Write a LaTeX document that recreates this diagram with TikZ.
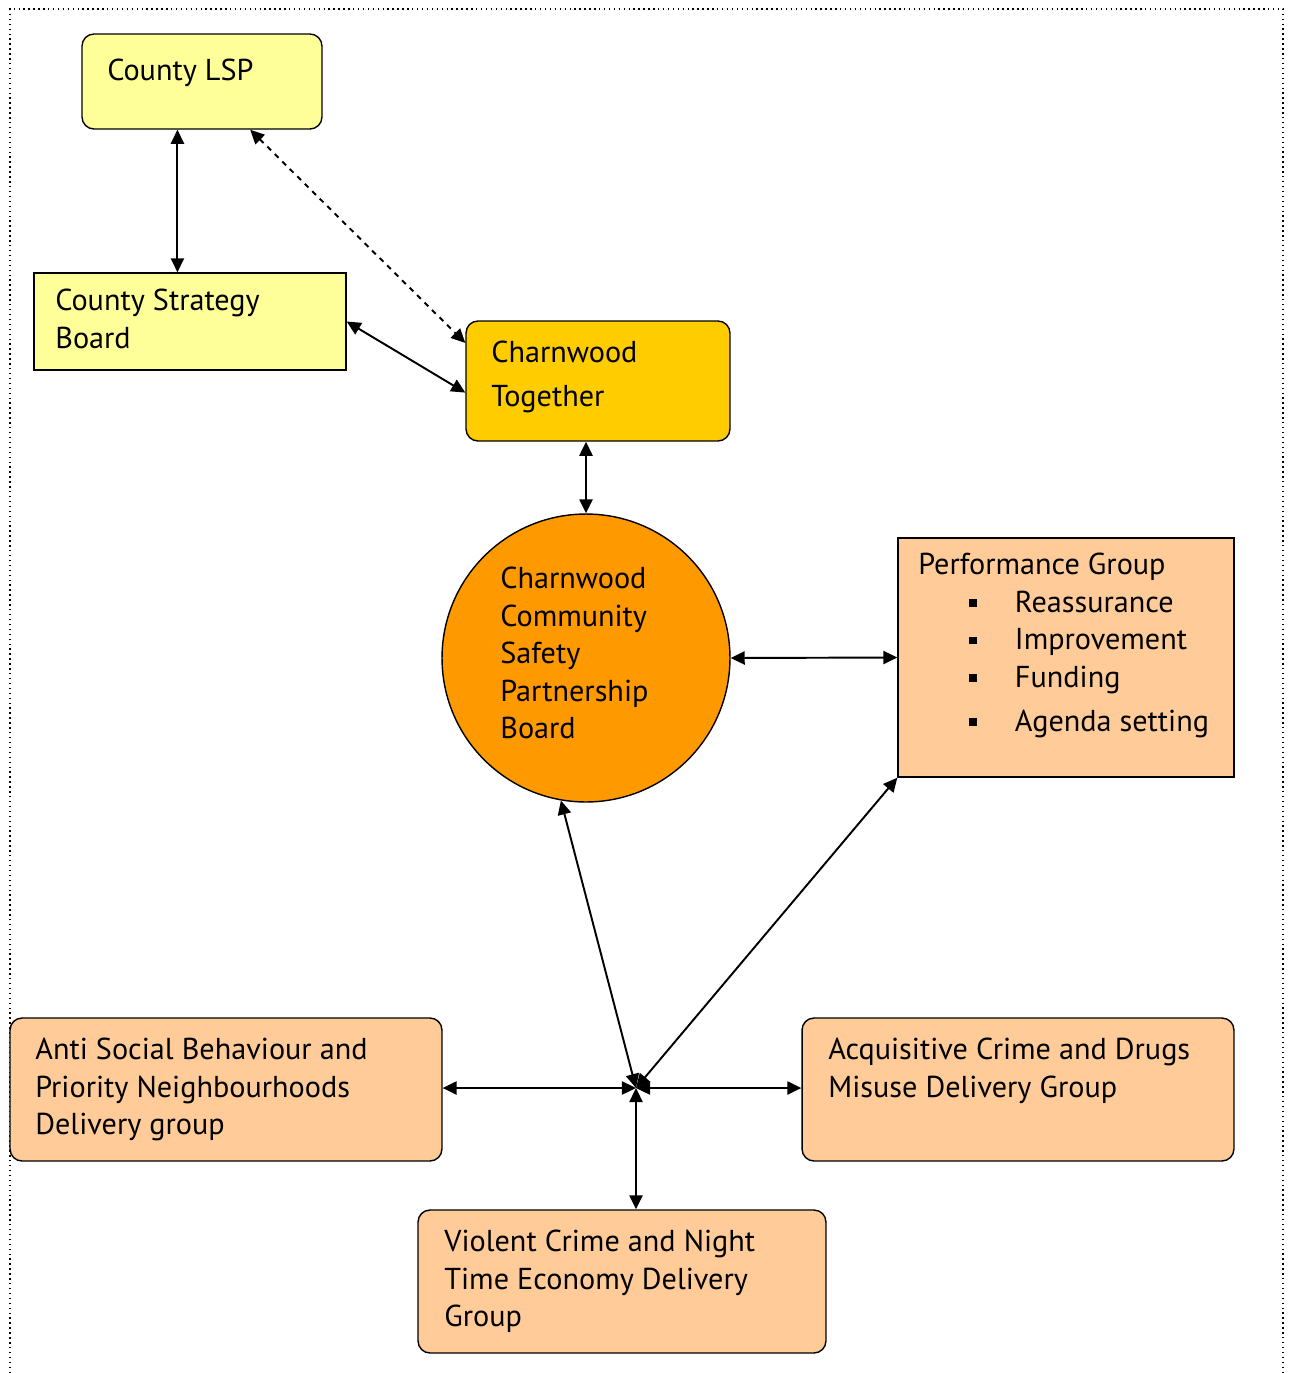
\documentclass[tikz,border=0pt]{standalone}
\usepackage{fontspec}
\setmainfont{PT Sans}
\usetikzlibrary{arrows.meta}
\definecolor{paleyellow}{HTML}{FFFF99}
\definecolor{gold}{HTML}{FFCC00}
\definecolor{deeporange}{HTML}{FF9900}
\definecolor{peach}{HTML}{FFCC99}
\newcommand{\bul}{\hspace{29pt}\rule[3pt]{4.5pt}{4.5pt}\hspace{21.5pt}}
\begin{document}
\begin{tikzpicture}[x=0.02cm,y=-0.02cm,
  box/.style={draw,line width=0.8pt,inner sep=0pt},
  rbox/.style={box,rounded corners=0.24cm},
  txt/.style={anchor=north west,inner sep=0pt,align=left,font=\fontsize{17.2}{21.3}\selectfont},
  link/.style={line width=1.1pt,{Triangle[length=8pt,width=7.5pt]}-{Triangle[length=8pt,width=7.5pt]}}]
\useasboundingbox (0,0) rectangle (1290,1373);
\draw[dotted,line width=0.8pt] (10,1373) -- (10,9) -- (1283,9) -- (1283,1373);
\node[rbox,fill=paleyellow,minimum width=4.8cm,minimum height=1.9cm] (lsp) at (202,81.5) {};
\node[box,fill=paleyellow,minimum width=6.24cm,minimum height=1.94cm] (csb) at (190,321.5) {};
\node[rbox,fill=gold,minimum width=5.28cm,minimum height=2.4cm] (ct) at (598,381) {};
\node[box,circle,fill=deeporange,minimum size=5.76cm] (csp) at (586,658) {};
\node[box,fill=peach,minimum width=6.72cm,minimum height=4.78cm] (perf) at (1066,657.5) {};
\node[rbox,fill=peach,minimum width=8.64cm,minimum height=2.86cm] (asb) at (226,1089.5) {};
\node[rbox,fill=peach,minimum width=8.64cm,minimum height=2.86cm] (acq) at (1018,1089.5) {};
\node[rbox,fill=peach,minimum width=8.16cm,minimum height=2.86cm] (vc) at (622,1281.5) {};
\coordinate (hub) at (636,1088);
\node[txt] (lsptxt) at (107,59) {County LSP};
\node[txt] (csbtxt) at (55,289) {County Strategy\\Board};
\node[txt,font=\fontsize{17.2}{25}\selectfont] (cttxt) at (491,341) {Charnwood\\Together};
\node[txt] (csptxt) at (500,567) {Charnwood\\Community\\Safety\\Partnership\\Board};
\node[txt] (perftxt) at (918,553) {Performance Group\\\bul Reassurance\\\bul Improvement\\\bul Funding\\[4pt]\bul Agenda setting};
\node[txt] (asbtxt) at (35,1038) {Anti Social Behaviour and\\Priority Neighbourhoods\\Delivery group};
\node[txt] (acqtxt) at (828,1038) {Acquisitive Crime and Drugs\\Misuse Delivery Group};
\node[txt] (vctxt) at (444,1230) {Violent Crime and Night\\Time Economy Delivery\\Group};
\draw[link] (lsp.243) -- (lsp.243 |- csb.north);
\draw[link,dashed] (lsp.315) -- (ct.164);
\draw[link] (csb.east) -- (ct.185);
\draw[link] (csp.north |- ct.south) -- (csp.north);
\draw[link] (csp.east) -- (perf.west);
\draw[link] (hub) -- (csp.260);
\draw[link] (hub) -- (perf.south west);
\draw[link] (hub) -- (asb.east |- hub);
\draw[link] (hub) -- (acq.west |- hub);
\draw[link] (hub) -- (hub |- vc.north);
\end{tikzpicture}
\end{document}
